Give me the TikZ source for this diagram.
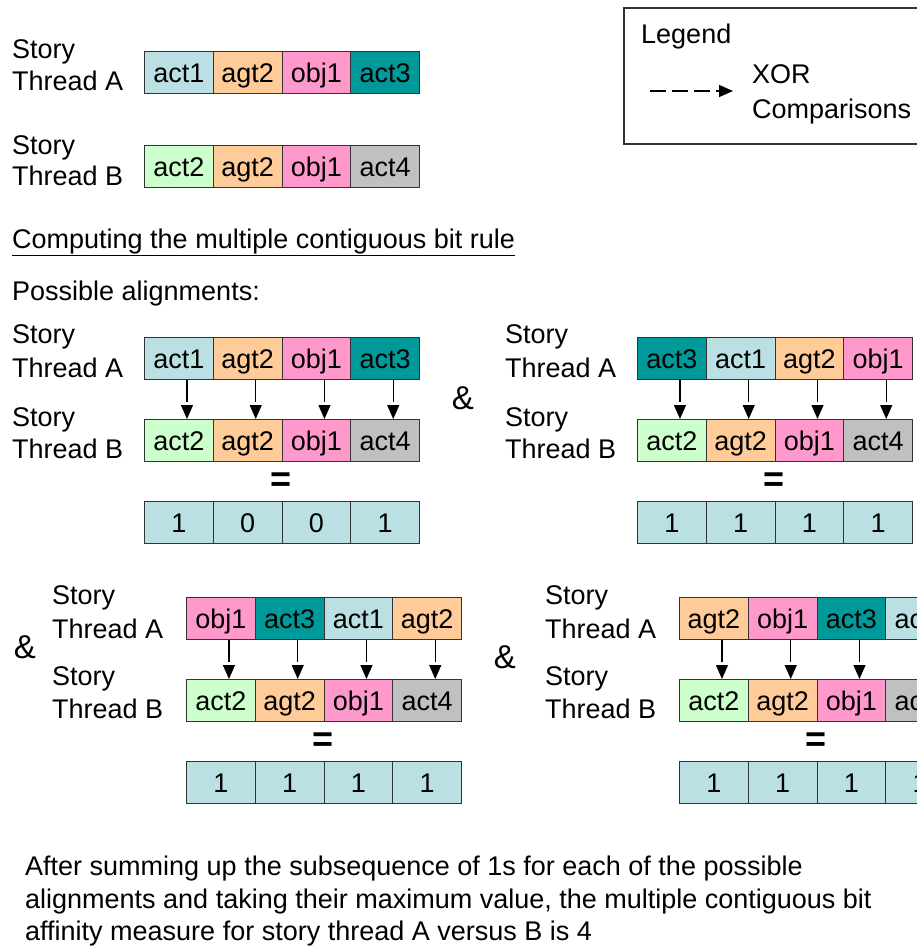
\documentclass[tikz,border=0pt]{standalone}
\usepackage{fontspec}
\setmainfont{Liberation Sans}
\usetikzlibrary{arrows.meta}
\definecolor{cact1}{HTML}{BBE0E3}
\definecolor{cagt2}{HTML}{FFCC99}
\definecolor{cobj1}{HTML}{FF99CC}
\definecolor{cact3}{HTML}{009999}
\definecolor{cact2}{HTML}{CCFFCC}
\definecolor{cact4}{HTML}{C0C0C0}
\definecolor{cres}{HTML}{BBE0E3}
\definecolor{cline}{HTML}{333333}
\tikzset{
  txt/.style={font=\fontsize{27}{32}\selectfont},
  cell/.style={txt, draw=cline, line width=1.2pt, minimum width=68.75pt,
    minimum height=42pt, inner sep=0pt, anchor=north west,
    text height=19.5pt, text depth=0pt},
  lbl/.style={txt, anchor=base west, inner sep=0pt},
  xorarrow/.style={draw=black, line width=1.3pt,
    -{Triangle[length=14pt,width=12pt]}, dash pattern=on 22pt off 5pt},
  legarrow/.style={draw=black, line width=1.3pt,
    -{Triangle[length=14pt,width=12pt]}, dash pattern=on 16pt off 6pt},
  amp/.style={font=\fontsize{33}{36}\selectfont},
  eqsign/.style={font=\fontsize{36}{36}\selectfont\bfseries, inner sep=0pt},
  legendbox/.style={draw=cline, line width=1.2pt}
}
\newcommand\cellrow[4]{%
  \foreach \c/\t [count=\i] in {#4} {
    \node[cell, fill=\c] (#1\i) at ({#2+(\i-1)*68.75}, #3) {\t};
  }}
\newcommand\xorarrows[3]{%
  \foreach \i in {1,...,#3} {
    \draw[xorarrow] ([xshift=8pt]#1\i.south) -- ([xshift=8pt]#2\i.north);
  }}
\newcommand\threadlabels[7]{%
  \node[lbl] (#1sa) at (#2,#3) {Story};
  \node[lbl] (#1ta) at (#2,#4) {Thread A};
  \node[lbl] (#1sb) at (#2,#5) {Story};
  \node[lbl] (#1tb) at (#2,#6) {Thread B};
}
\begin{document}
\begin{tikzpicture}[x=1pt,y=-1pt]
\useasboundingbox (0,0) rectangle (917,948);
\clip (0,0) rectangle (917,948);
\fill[white] (0,0) rectangle (917,948);

% top threads
\threadlabels{top}{12}{58}{90}{154}{185}{}
\cellrow{topa}{144}{51}{cact1/act1,cagt2/agt2,cobj1/obj1,cact3/act3}
\cellrow{topb}{144}{145}{cact2/act2,cagt2/agt2,cobj1/obj1,cact4/act4}

% legend
\draw[legendbox] (624,8) rectangle (940,144);
\node[lbl] (legtitle) at (641,43) {Legend};
\node[lbl] (legxor) at (752,83) {XOR};
\node[lbl] (legcmp) at (752,118) {Comparisons};
\coordinate (legs) at (650,91);
\coordinate (lege) at (733,91);
\draw[legarrow] (legs) -- (lege);

% headings
\node[lbl] (heading) at (12,248) {\underline{Computing the multiple contiguous bit rule}};
\node[lbl] (possible) at (12,300) {Possible alignments:};

% group 1
\threadlabels{ga}{12}{343}{377}{426}{458}{}
\cellrow{gaa}{144}{337}{cact1/act1,cagt2/agt2,cobj1/obj1,cact3/act3}
\cellrow{gab}{144}{419}{cact2/act2,cagt2/agt2,cobj1/obj1,cact4/act4}
\cellrow{gar}{144}{501}{cres/1,cres/0,cres/0,cres/1}
\xorarrows{gaa}{gab}{4}
\node[eqsign] (gaeq) at (281.5,482) {=};

\node[amp] (amp1) at (463,398) {\&};

% group 2
\threadlabels{gb}{505}{343}{377}{426}{458}{}
\cellrow{gba}{637}{337}{cact3/act3,cact1/act1,cagt2/agt2,cobj1/obj1}
\cellrow{gbb}{637}{419}{cact2/act2,cagt2/agt2,cobj1/obj1,cact4/act4}
\cellrow{gbr}{637}{501}{cres/1,cres/1,cres/1,cres/1}
\xorarrows{gba}{gbb}{4}
\node[eqsign] (gbeq) at (774.5,482) {=};

% group 3
\node[amp] (amp2) at (25,647) {\&};
\threadlabels{gc}{52}{604}{638}{685}{718}{}
\cellrow{gca}{186}{597}{cobj1/obj1,cact3/act3,cact1/act1,cagt2/agt2}
\cellrow{gcb}{186}{679}{cact2/act2,cagt2/agt2,cobj1/obj1,cact4/act4}
\cellrow{gcr}{186}{761}{cres/1,cres/1,cres/1,cres/1}
\xorarrows{gca}{gcb}{4}
\node[eqsign] (gceq) at (323.5,742) {=};

% group 4
\node[amp] (amp3) at (505,657) {\&};
\threadlabels{gd}{545}{604}{638}{685}{718}{}
\cellrow{gda}{679}{597}{cagt2/agt2,cobj1/obj1,cact3/act3,cact1/act1}
\cellrow{gdb}{679}{679}{cact2/act2,cagt2/agt2,cobj1/obj1,cact4/act4}
\cellrow{gdr}{679}{761}{cres/1,cres/1,cres/1,cres/1}
\xorarrows{gda}{gdb}{4}
\node[eqsign] (gdeq) at (816.5,742) {=};

% conclusion
\node[lbl] (sum1) at (25,875) {After summing up the subsequence of 1s for each of the possible};
\node[lbl] (sum2) at (25,908) {alignments and taking their maximum value, the multiple contiguous bit};
\node[lbl] (sum3) at (25,940) {affinity measure for story thread A versus B is 4};
\end{tikzpicture}
\end{document}
